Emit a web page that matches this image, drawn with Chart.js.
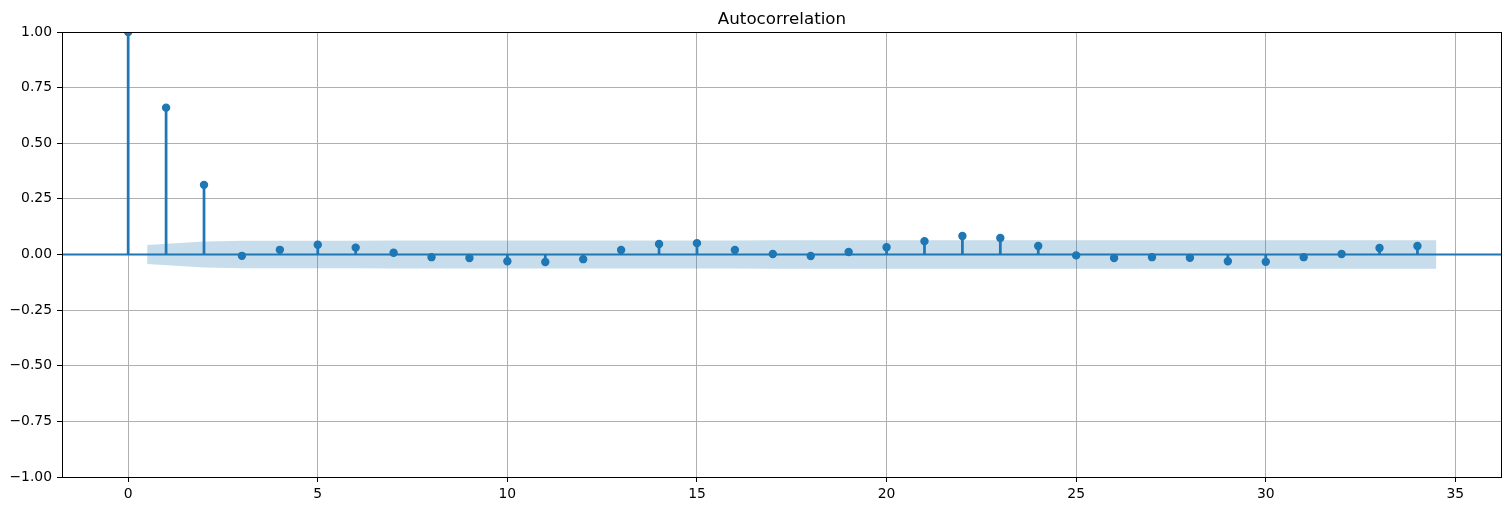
<!DOCTYPE html>
<html>
<head>
<meta charset="utf-8">
<script src="https://cdn.jsdelivr.net/npm/chart.js@4"></script>
<style>
  html, body { margin: 0; padding: 0; background: #fff; }
  #wrap { position: relative; width: 1511px; height: 511px; }
</style>
</head>
<body>
<div id="wrap"><canvas id="c"></canvas></div>
<script>
// ---- data ----
const lags = [0,1,2,3,4,5,6,7,8,9,10,11,12,13,14,15,16,17,18,19,20,21,22,23,24,25,26,27,28,29,30,31,32,33,34];
const acfValues = [1.0, 0.66, 0.313, -0.006, 0.021, 0.044, 0.031, 0.008, -0.012, -0.016, -0.03, -0.034, -0.021, 0.02, 0.047, 0.051, 0.02, 0.002, -0.007, 0.011, 0.033, 0.06, 0.083, 0.074, 0.038, -0.004, -0.016, -0.012, -0.015, -0.03, -0.033, -0.012, 0.002, 0.029, 0.038];
// confidence half-width for lags 1..34
const confHalfWidth = [0.043, 0.058, 0.062, 0.062, 0.062, 0.062, 0.063, 0.063, 0.063, 0.063, 0.063, 0.063, 0.063, 0.063, 0.063, 0.063, 0.064, 0.064, 0.064, 0.064, 0.064, 0.064, 0.064, 0.064, 0.064, 0.064, 0.064, 0.064, 0.064, 0.064, 0.064, 0.064, 0.064, 0.064];
const xTicks = [0, 5, 10, 15, 20, 25, 30, 35];
const yTicks = [-1.0, -0.75, -0.5, -0.25, 0.0, 0.25, 0.5, 0.75, 1.0];
const titleText = "Autocorrelation";

// band x positions (statsmodels widens the ends by half a lag)
const bandLags = lags.slice(1);
bandLags[0] -= 0.5;
bandLags[bandLags.length - 1] += 0.5;

const C0 = '#1f77b4';
const FONT = "'DejaVu Sans', sans-serif";

const stemPoints = lags.map((l, i) => ({ x: l, y: acfValues[i] }));
const upper = bandLags.map((l, i) => ({ x: l, y: confHalfWidth[i] }));
const lower = bandLags.map((l, i) => ({ x: l, y: -confHalfWidth[i] }));

const fmt = v => {
  const s = Math.abs(v).toFixed(2);
  return (v < 0 ? '\u2212' : '') + s;
};

const decor = {
  id: 'decor',
  afterDatasetsDraw(chart) {
    const { ctx, chartArea: a, scales } = chart;
    const y0 = scales.y.getPixelForValue(0);
    ctx.save();
    ctx.beginPath();
    ctx.rect(a.left, a.top, a.right - a.left, a.bottom - a.top);
    ctx.clip();
    ctx.strokeStyle = C0;
    ctx.lineWidth = 2.08;
    ctx.beginPath();
    ctx.moveTo(a.left, y0);
    ctx.lineTo(a.right, y0);
    ctx.stroke();
    ctx.restore();
  },
  afterDraw(chart) {
    const { ctx, chartArea: a } = chart;
    ctx.save();
    ctx.strokeStyle = '#000';
    ctx.lineWidth = 1;
    ctx.strokeRect(Math.round(a.left) + 0.5, Math.round(a.top) + 0.5,
                   Math.round(a.right - a.left) - 1, Math.round(a.bottom - a.top));
    ctx.fillStyle = '#000';
    ctx.font = "16.7px " + FONT;
    ctx.textAlign = 'center';
    ctx.textBaseline = 'alphabetic';
    ctx.fillText(titleText, (a.left + a.right) / 2, a.top - 8.3);
    ctx.restore();
  }
};

new Chart(document.getElementById('c'), {
  type: 'bar',
  data: {
    datasets: [
      {
        type: 'scatter',
        data: stemPoints,
        showLine: false,
        pointRadius: 3.5,
        pointHoverRadius: 3.5,
        pointBorderWidth: 1.4,
        pointBackgroundColor: C0,
        pointBorderColor: C0,
        order: 1
      },
      {
        type: 'bar',
        data: stemPoints,
        backgroundColor: C0,
        borderWidth: 0,
        barThickness: 2.08,
        order: 2
      },
      {
        type: 'line',
        data: upper,
        fill: '+1',
        backgroundColor: 'rgba(31,119,180,0.25)',
        borderWidth: 0,
        borderColor: 'rgba(0,0,0,0)',
        pointRadius: 0,
        tension: 0,
        order: 3
      },
      {
        type: 'line',
        data: lower,
        fill: false,
        borderWidth: 0,
        borderColor: 'rgba(0,0,0,0)',
        pointRadius: 0,
        tension: 0,
        order: 4
      }
    ]
  },
  plugins: [decor],
  options: {
    responsive: true,
    maintainAspectRatio: false,
    devicePixelRatio: 1,
    animation: false,
    events: [],
    layout: { padding: { left: 0, right: 9, top: 32, bottom: 0 } },
    plugins: { legend: { display: false }, title: { display: false }, tooltip: { enabled: false } },
    scales: {
      x: {
        type: 'linear',
        min: -1.745,
        max: 36.23,
        offset: false,
        grid: { color: '#b0b0b0', lineWidth: 1, offset: false, tickLength: 5, tickColor: '#000', tickWidth: 1 },
        border: { display: false },
        ticks: { color: '#000', font: { family: FONT, size: 13.9 }, padding: 4, maxRotation: 0, autoSkip: false,
                 callback: v => String(v) },
        afterBuildTicks: s => { s.ticks = xTicks.map(v => ({ value: v })); },
        afterFit: s => { s.height = 34; }
      },
      y: {
        type: 'linear',
        min: -1,
        max: 1,
        grid: { color: '#b0b0b0', lineWidth: 1, tickLength: 5, tickColor: '#000', tickWidth: 1 },
        border: { display: false },
        ticks: { color: '#000', font: { family: FONT, size: 13.9 }, padding: 5, autoSkip: false,
                 callback: v => fmt(v) },
        afterBuildTicks: s => { s.ticks = yTicks.map(v => ({ value: v })); },
        afterFit: s => { s.width = 62; }
      }
    }
  }
});
</script>
</body>
</html>
